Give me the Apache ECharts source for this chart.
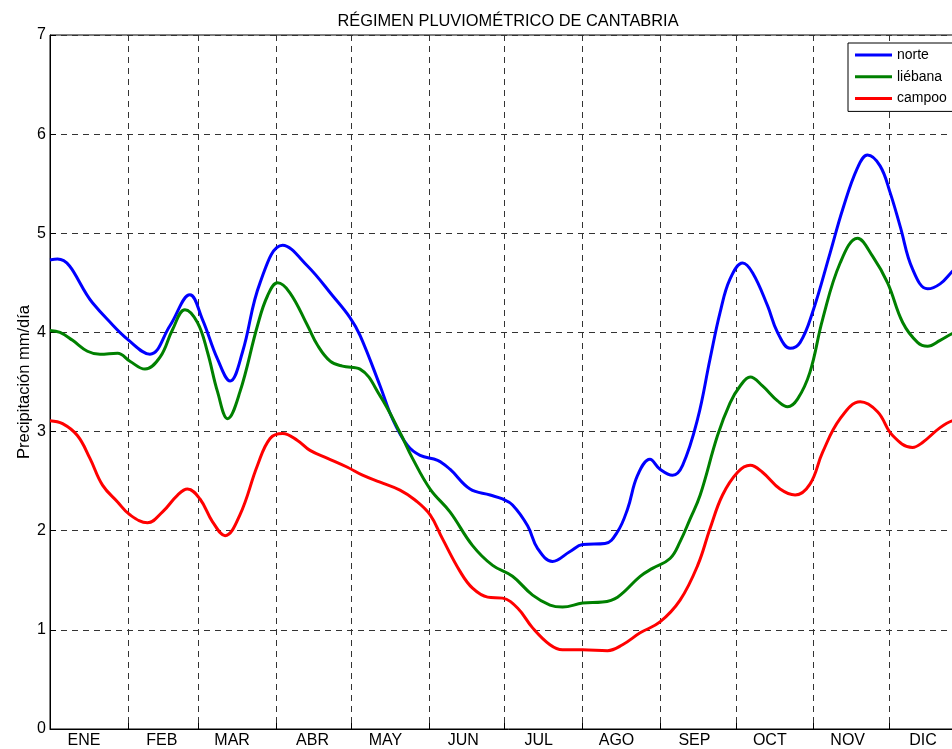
<!DOCTYPE html>
<html>
<head>
<meta charset="utf-8">
<script src="https://cdn.jsdelivr.net/npm/echarts@6/dist/echarts.min.js"></script>
<style>
  html, body { margin: 0; padding: 0; background: #fff; overflow: hidden; }
  /* plot runs past the right edge of the window, like the original figure */
  #chart { width: 980px; height: 749px; }
</style>
</head>
<body>
<div id="chart"></div>
<script>
// month labels and lengths (days)
var months = ["ENE", "FEB", "MAR", "ABR", "MAY", "JUN", "JUL", "AGO", "SEP", "OCT", "NOV", "DIC"];
var monthDays = [31, 28, 31, 30, 31, 30, 31, 31, 30, 31, 30, 31];
// day where each month label sits
var labelDays = [13, 44, 72, 104, 133, 164, 194, 225, 256, 286, 317, 347];
var yTicks = [0, 1, 2, 3, 4, 5, 6, 7];

// norte (day of year, mm/dia)
var norteDays = [0, 3, 16.9, 22.9, 30.9, 39.8, 47.8, 55.7, 60.7, 66.7, 71.7, 76.6, 83.6, 92.6, 102.5, 112.5, 119.4, 123.4, 131.4, 136.3, 142.3, 147.3, 154.3, 159.2, 167.2, 175.2, 180.1, 184.1, 190.1, 194.1, 200, 207, 212, 220.9, 225.9, 229.9, 233.9, 238.8, 242.8, 247.8, 251.8, 257.8, 262.7, 266.7, 270.7, 275.7, 279.7, 285.6, 289.6, 294.6, 298.6, 303.5, 310.5, 315.5, 321.4, 325.4, 330.4, 334.4, 338.4, 343.3, 349.3, 354.3, 359.3, 365];
var norteVals = [4.73, 4.74, 4.30, 4.13, 3.93, 3.78, 4.07, 4.38, 4.13, 3.73, 3.51, 3.80, 4.50, 4.88, 4.67, 4.37, 4.15, 3.97, 3.46, 3.13, 2.86, 2.76, 2.71, 2.62, 2.42, 2.36, 2.32, 2.26, 2.05, 1.82, 1.69, 1.79, 1.86, 1.87, 1.99, 2.22, 2.56, 2.72, 2.62, 2.56, 2.66, 3.13, 3.73, 4.20, 4.54, 4.70, 4.60, 4.27, 4.00, 3.84, 3.90, 4.20, 4.80, 5.24, 5.66, 5.79, 5.68, 5.41, 5.07, 4.64, 4.44, 4.49, 4.62, 4.76];

// liebana
var liebanaDays = [0, 4, 9, 14.9, 19.9, 26.9, 31.8, 37.8, 43.8, 48.8, 53.7, 58.7, 62.7, 66.7, 70.7, 75.6, 82.6, 86.6, 90.6, 95.5, 102.5, 106.5, 111.5, 116.4, 123.4, 131.4, 139.3, 144.3, 151.3, 159.2, 168.2, 176.2, 184.1, 192.1, 199, 204, 212, 219.9, 225.9, 234.9, 239.8, 246.8, 250.8, 254.8, 258.8, 265.7, 270.7, 274.7, 278.7, 283.6, 289.6, 293.6, 297.6, 302.5, 307.5, 314.5, 321.4, 327.4, 333.4, 339.4, 345.3, 349.3, 354.3, 359.3, 365];
var liebanaVals = [4.02, 4.00, 3.92, 3.81, 3.78, 3.79, 3.71, 3.63, 3.75, 4.03, 4.23, 4.10, 3.80, 3.40, 3.13, 3.40, 4.07, 4.37, 4.50, 4.40, 4.07, 3.87, 3.71, 3.66, 3.63, 3.36, 2.99, 2.73, 2.42, 2.19, 1.85, 1.65, 1.54, 1.35, 1.25, 1.23, 1.27, 1.28, 1.33, 1.54, 1.62, 1.72, 1.89, 2.12, 2.36, 2.96, 3.29, 3.46, 3.55, 3.46, 3.31, 3.25, 3.33, 3.60, 4.13, 4.70, 4.95, 4.77, 4.50, 4.10, 3.90, 3.86, 3.92, 3.99, 4.04];

// campoo
var campooDays = [0, 5, 10.9, 15.9, 20.9, 26.9, 31.8, 38.8, 44.8, 50.8, 54.7, 59.7, 64.7, 69.7, 75.6, 82.6, 87.6, 92.6, 98.5, 103.5, 110.5, 118.4, 124.4, 131.4, 139.3, 145.3, 151.3, 156.2, 163.2, 168.2, 174.2, 180.1, 186.1, 192.1, 199, 204, 212, 221.9, 227.9, 234.9, 242.8, 250.8, 257.8, 262.7, 267.7, 273.7, 278.7, 283.6, 290.6, 296.6, 302.5, 307.5, 314.5, 322.5, 329.4, 335.4, 343.3, 347.3, 354.3, 359.3, 365];
var campooVals = [3.11, 3.08, 2.96, 2.73, 2.46, 2.29, 2.16, 2.08, 2.19, 2.36, 2.42, 2.32, 2.09, 1.95, 2.16, 2.66, 2.93, 2.98, 2.91, 2.81, 2.73, 2.64, 2.56, 2.49, 2.41, 2.31, 2.16, 1.92, 1.59, 1.42, 1.33, 1.32, 1.22, 1.02, 0.85, 0.80, 0.80, 0.79, 0.85, 0.97, 1.08, 1.30, 1.65, 2.02, 2.36, 2.59, 2.66, 2.59, 2.42, 2.36, 2.47, 2.79, 3.13, 3.30, 3.20, 2.96, 2.84, 2.89, 3.04, 3.11, 3.13];

function pairs(days, vals) {
  return days.map(function(d, i) { return [d, vals[i]]; });
}

// day categories for the month grid / labels
var dayCats = [];
for (var d = 0; d < 365; d++) dayCats.push(String(d));
var monthStart = [];
var acc = 0;
monthDays.forEach(function(n) {
  monthStart.push(acc);
  acc += n;
});
var labelAt = {};
labelDays.forEach(function(d, i) { labelAt[d] = months[i]; });

var font = "Liberation Sans, Arial, sans-serif";
var gridDash = { color: "#333", type: [6, 5], width: 1 };

var myChart = echarts.init(document.getElementById("chart"));
myChart.setOption({
  animation: false,
  textStyle: { fontFamily: font },
  title: {
    text: "RÉGIMEN PLUVIOMÉTRICO DE CANTABRIA",
    left: 503,
    textAlign: "center",
    top: 8,
    textStyle: { fontSize: 16.4, fontWeight: "normal", color: "#000", fontFamily: font }
  },
  grid: {
    left: 50,
    top: 35,
    width: 917,
    height: 696,
    show: true,
    borderColor: "#000",
    borderWidth: 1
  },
  legend: {
    orient: "vertical",
    left: 848,
    top: 43,
    padding: [4, 60, 5, 7],
    itemGap: 5.7,
    itemWidth: 37,
    itemHeight: 3,
    icon: "rect",
    backgroundColor: "#fff",
    borderColor: "#000",
    borderWidth: 1,
    borderRadius: 0,
    textStyle: { fontSize: 14, lineHeight: 16, color: "#000", fontFamily: font },
    data: ["norte", "liébana", "campoo"]
  },
  xAxis: [
    {
      type: "category",
      data: dayCats,
      boundaryGap: true,
      axisLine: { show: true, lineStyle: { color: "#000", width: 1 } },
      axisTick: {
        show: true,
        inside: true,
        length: 6,
        interval: function(i) { return monthStart.indexOf(i) >= 0; },
        lineStyle: { color: "#000" }
      },
      axisLabel: {
        interval: function(i) { return labelAt[i] !== undefined; },
        formatter: function(v, i) { return labelAt[i] || ""; },
        fontSize: 16,
        color: "#000",
        margin: 4,
        fontFamily: font
      },
      splitLine: {
        show: true,
        interval: function(i) { return monthStart.indexOf(i) > 0; },
        lineStyle: gridDash
      }
    },
    {
      type: "value",
      min: 0,
      max: 365,
      show: false
    }
  ],
  yAxis: {
    type: "value",
    min: yTicks[0],
    max: yTicks[yTicks.length - 1],
    interval: 1,
    name: "Precipitación mm/día",
    nameLocation: "middle",
    nameGap: 17,
    nameMoveOverlap: false,
    nameTextStyle: { fontSize: 16.5, color: "#000", fontFamily: font },
    axisLine: { show: true, lineStyle: { color: "#000", width: 1 } },
    axisTick: { show: true, inside: true, length: 6, lineStyle: { color: "#000" } },
    axisLabel: { fontSize: 16, color: "#000", margin: 4, fontFamily: font },
    splitLine: { show: true, lineStyle: gridDash }
  },
  series: [
    {
      name: "norte",
      type: "line",
      xAxisIndex: 1,
      smooth: 0.4,
      showSymbol: false,
      lineStyle: { color: "#0000ff", width: 3 },
      itemStyle: { color: "#0000ff" },
      data: pairs(norteDays, norteVals)
    },
    {
      name: "liébana",
      type: "line",
      xAxisIndex: 1,
      smooth: 0.4,
      showSymbol: false,
      lineStyle: { color: "#008000", width: 3 },
      itemStyle: { color: "#008000" },
      data: pairs(liebanaDays, liebanaVals)
    },
    {
      name: "campoo",
      type: "line",
      xAxisIndex: 1,
      smooth: 0.4,
      showSymbol: false,
      lineStyle: { color: "#ff0000", width: 3 },
      itemStyle: { color: "#ff0000" },
      data: pairs(campooDays, campooVals)
    }
  ]
});
</script>
</body>
</html>
